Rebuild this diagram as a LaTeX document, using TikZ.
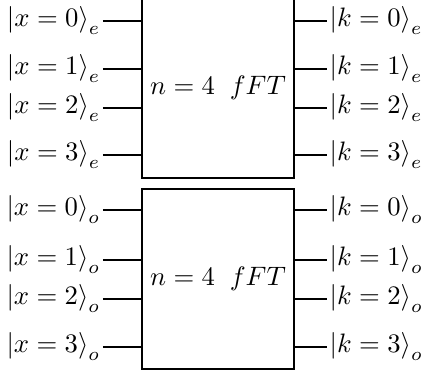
\documentclass[tikz,border=0pt]{standalone}
\usepackage{amsmath}
\newcommand{\myket}[1]{\left|#1\right\rangle}
\begin{document}
\begin{tikzpicture}[x=0.375pt,y=-0.375pt,
  fbox/.style={draw,line width=0.4pt,minimum width=152*0.375pt,minimum height=180*0.375pt,inner sep=0pt},
  lab/.style={inner sep=0.8pt},
  wire/.style={line width=0.4pt}]
\useasboundingbox (0,0) rectangle (424,376);
\node[fbox] (boxE) at (218,88) {$n=4\;\; fFT$};
\node[fbox] (boxO) at (218,279) {$n=4\;\; fFT$};
% top block
\foreach \i/\y in {0/21,1/69,2/108,3/155}{
  \node[lab,anchor=east] (xe\i) at (103,\y) {$\myket{x=\i}_e$};
  \node[lab,anchor=west] (ke\i) at (327,\y) {$\myket{k=\i}_e$};
  \draw[wire] (xe\i.east) -- (xe\i.east -| boxE.west);
  \draw[wire] (ke\i.west) -- (ke\i.west -| boxE.east);
}
\foreach \i/\y in {0/210,1/260,2/299,3/347}{
  \node[lab,anchor=east] (xo\i) at (103,\y) {$\myket{x=\i}_o$};
  \node[lab,anchor=west] (ko\i) at (327,\y) {$\myket{k=\i}_o$};
  \draw[wire] (xo\i.east) -- (xo\i.east -| boxO.west);
  \draw[wire] (ko\i.west) -- (ko\i.west -| boxO.east);
}
\end{tikzpicture}
\end{document}
